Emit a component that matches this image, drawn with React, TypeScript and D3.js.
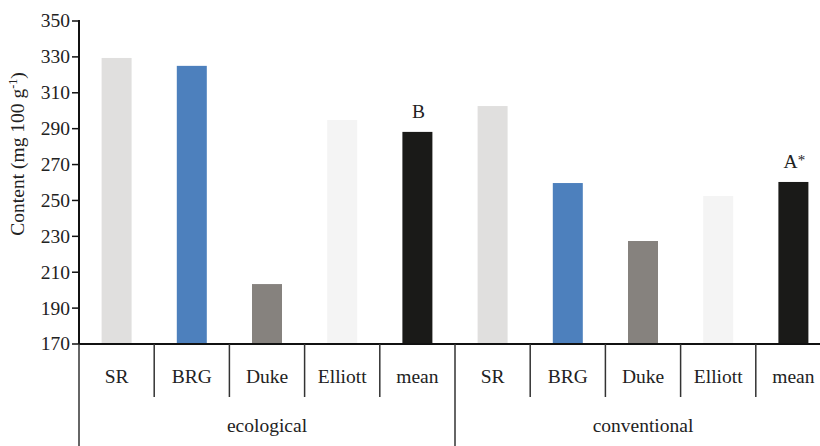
import React, { useEffect, useRef } from "react";
import * as d3 from "d3";

const groups = ["ecological", "conventional"];
const cultivars = ["SR", "BRG", "Duke", "Elliott", "mean"];
const ecological = [329.4, 325, 203.4, 294.8, 288.2];
const conventional = [302.6, 259.7, 227.4, 252.5, 260.3];
const meanLabels = ["B", "A*"];
const yTicks = [170, 190, 210, 230, 250, 270, 290, 310, 330, 350];
const colors = ["#e0dfde", "#4d80bd", "#86827e", "#f4f4f4", "#1a1a18"];

const App = () => {
  const svgRef = useRef<SVGSVGElement>(null);

  useEffect(() => {
    const svg = d3.select(svgRef.current);
    svg.selectAll("*").remove();

    const width = 820,
      height = 446;
    const left = 79,
      top = 21,
      bottom = 344;
    const slotW = 75.2;
    const font = "'Liberation Serif', serif";
    const fs = 19.5;

    const rows = groups.flatMap((g, gi) =>
      cultivars.map((c, ci) => ({
        key: `${g}-${c}`,
        group: gi,
        idx: ci,
        name: c,
        value: (gi === 0 ? ecological : conventional)[ci],
      }))
    );

    const x = d3
      .scaleBand()
      .domain(rows.map((d) => d.key))
      .range([left, left + slotW * rows.length])
      .paddingInner(0)
      .paddingOuter(0);

    const y = d3.scaleLinear().domain([170, 350]).range([bottom, top]);

    const barW = 30;

    // bars
    svg
      .selectAll("rect.bar")
      .data(rows)
      .join("rect")
      .attr("class", "bar")
      .attr("x", (d) => x(d.key)! + x.bandwidth() / 2 - barW / 2)
      .attr("y", (d) => y(d.value))
      .attr("width", barW)
      .attr("height", (d) => y(170) - y(d.value))
      .attr("fill", (d) => colors[d.idx]);

    // mean significance letters
    const sig = svg
      .selectAll("text.sig")
      .data(rows.filter((d) => d.name === "mean"))
      .join("text")
      .attr("class", "sig")
      .attr("x", (d) => x(d.key)! + x.bandwidth() / 2 + 1)
      .attr("y", (d) => y(d.value) - 13.5)
      .attr("text-anchor", "middle")
      .style("font-family", font)
      .style("font-size", `${fs}px`)
      .attr("fill", "#222");
    sig.append("tspan").text((d) => meanLabels[d.group].replace("*", ""));
    sig
      .filter((d) => meanLabels[d.group].includes("*"))
      .append("tspan")
      .attr("dy", -3)
      .style("font-size", "15px")
      .text("*");

    // y axis
    const yAxis = svg.append("g");
    yAxis
      .append("line")
      .attr("x1", left)
      .attr("x2", left)
      .attr("y1", top - 1)
      .attr("y2", bottom)
      .attr("stroke", "#111")
      .attr("stroke-width", 2);
    yAxis
      .selectAll("line.tick")
      .data(yTicks)
      .join("line")
      .attr("class", "tick")
      .attr("x1", left - 7)
      .attr("x2", left)
      .attr("y1", (d) => y(d))
      .attr("y2", (d) => y(d))
      .attr("stroke", "#111")
      .attr("stroke-width", 1.5);
    yAxis
      .selectAll("text")
      .data(yTicks)
      .join("text")
      .attr("x", left - 9)
      .attr("y", (d) => y(d))
      .attr("dy", "0.33em")
      .attr("text-anchor", "end")
      .style("font-family", font)
      .style("font-size", `${fs}px`)
      .attr("fill", "#222")
      .text((d) => d);

    // y label
    const yl = svg
      .append("text")
      .attr("transform", `translate(24,154) rotate(-90)`)
      .attr("text-anchor", "middle")
      .style("font-family", font)
      .style("font-size", `${fs}px`)
      .attr("fill", "#222");
    yl.append("tspan").text("Content (mg 100 g");
    yl.append("tspan").style("font-size", "12px").attr("dy", -7).text("-1");
    yl.append("tspan").attr("dy", 7).text(")");

    // x axis line
    svg
      .append("line")
      .attr("x1", left)
      .attr("x2", width)
      .attr("y1", bottom)
      .attr("y2", bottom)
      .attr("stroke", "#111")
      .attr("stroke-width", 2);

    // category dividers
    svg
      .selectAll("line.div")
      .data(rows)
      .join("line")
      .attr("class", "div")
      .attr("x1", (d) => x(d.key)!)
      .attr("x2", (d) => x(d.key)!)
      .attr("y1", bottom)
      .attr("y2", (d) => (d.idx === 0 ? height : 397))
      .attr("stroke", "#333")
      .attr("stroke-width", 1.5);

    // category labels
    svg
      .selectAll("text.cat")
      .data(rows)
      .join("text")
      .attr("class", "cat")
      .attr("x", (d) => x(d.key)! + x.bandwidth() / 2)
      .attr("y", 383)
      .attr("text-anchor", "middle")
      .style("font-family", font)
      .style("font-size", `${fs}px`)
      .attr("fill", "#222")
      .text((d) => d.name);

    // group labels
    svg
      .selectAll("text.grp")
      .data(groups)
      .join("text")
      .attr("class", "grp")
      .attr("x", (d, i) => left + slotW * 5 * i + (slotW * 5) / 2)
      .attr("y", 432)
      .attr("text-anchor", "middle")
      .style("font-family", font)
      .style("font-size", `${fs}px`)
      .attr("fill", "#222")
      .text((d) => d);
  }, []);

  return (
    <svg
      ref={svgRef}
      width={820}
      height={446}
      style={{ position: "absolute", left: 0, top: 0, background: "#fff" }}
    />
  );
};

export default App;
